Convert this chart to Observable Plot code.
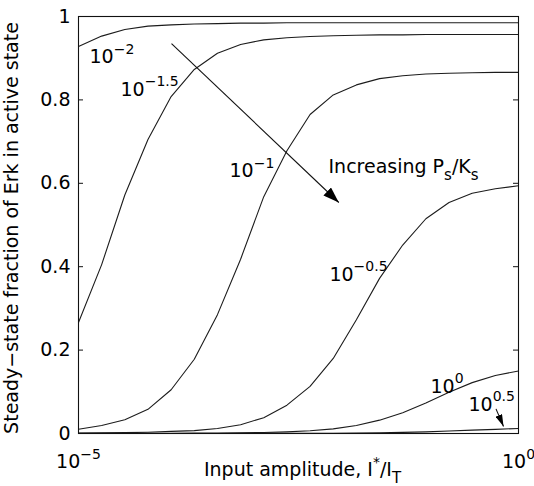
<!DOCTYPE html>
<html>
<head>
<meta charset="utf-8">
<script src="https://cdn.jsdelivr.net/npm/d3@7"></script>
<script src="https://cdn.jsdelivr.net/npm/@observablehq/plot@0.6"></script>
<style>
  html, body { margin: 0; padding: 0; background: #fff; }
</style>
</head>
<body>
<div id="chart"></div>
<script>
// Input amplitude I*/I_T: 20 log-spaced samples from 1e-5 to 1
const inputAmplitude = [
  1e-5, 1.833e-5, 3.360e-5, 6.158e-5, 1.129e-4, 2.069e-4, 3.793e-4, 6.952e-4,
  1.274e-3, 2.336e-3, 4.281e-3, 7.848e-3, 1.438e-2, 2.637e-2, 4.833e-2, 8.859e-2,
  0.1624, 0.2976, 0.5456, 1
];

// Steady-state fraction of active Erk, one array per phosphatase ratio Ps/Ks
const ratioLabels = ["10^{−2}", "10^{−1.5}", "10^{−1}", "10^{−0.5}", "10^{0}", "10^{0.5}"];
const erkRatioM2 = [0.928, 0.953, 0.969, 0.977, 0.980, 0.982, 0.983, 0.984, 0.984, 0.985,
                    0.985, 0.985, 0.985, 0.985, 0.985, 0.985, 0.985, 0.985, 0.985, 0.985];
const erkRatioM15 = [0.266, 0.405, 0.572, 0.705, 0.808, 0.873, 0.912, 0.933, 0.944, 0.949,
                     0.952, 0.954, 0.955, 0.956, 0.956, 0.957, 0.957, 0.957, 0.957, 0.957];
const erkRatioM1 = [0.010, 0.019, 0.033, 0.058, 0.105, 0.178, 0.285, 0.418, 0.568, 0.678,
                    0.765, 0.812, 0.836, 0.851, 0.858, 0.862, 0.864, 0.865, 0.866, 0.866];
const erkRatioM05 = [0.001, 0.0015, 0.002, 0.003, 0.005, 0.007, 0.012, 0.021, 0.038, 0.068,
                     0.113, 0.180, 0.273, 0.372, 0.452, 0.515, 0.554, 0.576, 0.587, 0.594];
const erkRatio0 = [0.0002, 0.0003, 0.0004, 0.0005, 0.0006, 0.0008, 0.0011, 0.0015, 0.0025, 0.004,
                   0.0065, 0.011, 0.019, 0.032, 0.050, 0.073, 0.099, 0.122, 0.139, 0.150];
const erkRatio05 = [0, 0, 0, 0, 0.0001, 0.0001, 0.0001, 0.0002, 0.0002, 0.0003,
                    0.0004, 0.0007, 0.0011, 0.0018, 0.0028, 0.004, 0.006, 0.008, 0.010, 0.012];
const erkSeries = [erkRatioM2, erkRatioM15, erkRatioM1, erkRatioM05, erkRatio0, erkRatio05];

// Axis ticks
const yTicks = [0, 0.2, 0.4, 0.6, 0.8, 1];
const yTickLabels = ["0", "0.2", "0.4", "0.6", "0.8", "1"];
const xTicks = [1e-5, 1];
const xTickLabels = ["10^{−5}", "10^{0}"];

// Curve annotations (data coordinates of each label's baseline start)
const labelText = ["10^{−2}", "10^{−1.5}", "10^{−1}", "Increasing P_{s}/K_{s}", "10^{−0.5}", "10^{0}", "10^{0.5}"];
const labelX = [1.334e-5, 3.0e-5, 5.2e-4, 6.93e-3, 7.1e-3, 0.1, 0.2704];
const labelY = [0.888, 0.810, 0.614, 0.624, 0.366, 0.098, 0.0545];

// Arrows: start and tip in data coordinates
const arrowX1 = [1.14e-4, 0.555];
const arrowY1 = [0.935, 0.059];
const arrowX2 = [9.08e-3, 0.676];
const arrowY2 = [0.554, 0.017];

const xAxisTitle = "Input amplitude, I^{*}/I_{T}";
const yAxisTitle = "Steady−state fraction of Erk in active state";

const rows = erkSeries.flatMap((values, s) =>
  values.map((v, i) => ({series: ratioLabels[s], x: inputAmplitude[i], y: v}))
);
const labels = labelText.map((t, i) => ({text: t, x: labelX[i], y: labelY[i]}));
const arrows = arrowX1.map((_, i) => ({x1: arrowX1[i], y1: arrowY1[i], x2: arrowX2[i], y2: arrowY2[i]}));

const ink = "#111";

const chart = Plot.plot({
  width: 534,
  height: 486,
  marginLeft: 78,
  marginRight: 16,
  marginTop: 16,
  marginBottom: 53,
  style: {fontFamily: "'DejaVu Sans', sans-serif", fontSize: "19px", background: "#fff", color: "#000"},
  x: {type: "log", domain: [1e-5, 1]},
  y: {domain: [0, 1]},
  marks: [
    Plot.line(rows, {x: "x", y: "y", z: "series", stroke: "#1c1c1c", strokeWidth: 1.1}),
    Plot.frame({stroke: ink, strokeWidth: 1.1}),
    // inward ticks on the left and right edges
    Plot.tickY(yTicks, {y: d => d, insetRight: 435, stroke: ink}),
    Plot.tickY(yTicks, {y: d => d, insetLeft: 435, stroke: ink}),
    Plot.axisY({ticks: yTicks, tickSize: 0, tickPadding: 8, label: null,
                tickFormat: d => yTickLabels[yTicks.indexOf(d)], fill: "#000"}),
    Plot.axisX({ticks: xTicks, tickSize: 0, tickPadding: 21, label: null,
                tickFormat: d => xTickLabels[xTicks.indexOf(d)], fill: "#000"}),
    Plot.text(labels, {x: "x", y: "y", text: "text", textAnchor: "start", lineAnchor: "bottom", fill: "#000"}),
    Plot.link(arrows, {x1: "x1", y1: "y1", x2: "x2", y2: "y2", stroke: ink, strokeWidth: 1.1}),
    Plot.text([xAxisTitle], {text: d => d, frameAnchor: "bottom", textAnchor: "middle",
                             lineAnchor: "bottom", dy: 42.5, dx: 4, fill: "#000"}),
    Plot.text([yAxisTitle], {text: d => d, frameAnchor: "left", textAnchor: "middle",
                             lineAnchor: "bottom", rotate: -90, dx: -60.5, dy: 3, fill: "#000"})
  ]
});

// Turn ^{...} and _{...} markup into raised / lowered tspans
const SVGNS = "http://www.w3.org/2000/svg";
function enrichText(svg) {
  const re = /([\^_])\{([^}]*)\}|([^\^_]+)/g;
  svg.querySelectorAll("text").forEach(t => {
    const s = t.textContent;
    if (!/[\^_]\{/.test(s)) return;
    while (t.firstChild) t.removeChild(t.firstChild);
    let shift = 0;
    for (const m of s.matchAll(re)) {
      const ts = document.createElementNS(SVGNS, "tspan");
      let target = 0;
      if (m[1] === "^") {
        target = -9.5;
        ts.setAttribute("font-size", "14px");
        ts.textContent = m[2];
      } else if (m[1] === "_") {
        target = 6.5;
        ts.setAttribute("font-size", "15px");
        ts.textContent = m[2];
      } else {
        ts.textContent = m[3];
      }
      if (target !== shift) ts.setAttribute("dy", target - shift);
      shift = target;
      t.appendChild(ts);
    }
  });
}

// Filled arrowheads for the annotation arrows
function addArrowheads(svg) {
  const defs = document.createElementNS(SVGNS, "defs");
  const heads = [{id: "head-large", len: 16, wid: 11}, {id: "head-small", len: 12, wid: 7}];
  for (const h of heads) {
    const m = document.createElementNS(SVGNS, "marker");
    m.setAttribute("id", h.id);
    m.setAttribute("viewBox", `0 0 ${h.len} ${h.wid}`);
    m.setAttribute("refX", h.len);
    m.setAttribute("refY", h.wid / 2);
    m.setAttribute("markerWidth", h.len);
    m.setAttribute("markerHeight", h.wid);
    m.setAttribute("markerUnits", "userSpaceOnUse");
    m.setAttribute("orient", "auto");
    const p = document.createElementNS(SVGNS, "path");
    p.setAttribute("d", `M0,0L${h.len},${h.wid / 2}L0,${h.wid}Z`);
    p.setAttribute("fill", "#000");
    p.setAttribute("stroke", "none");
    m.appendChild(p);
    defs.appendChild(m);
  }
  svg.insertBefore(defs, svg.firstChild);
  const paths = svg.querySelectorAll('g[aria-label="link"] path');
  paths.forEach((p, i) => p.setAttribute("marker-end", `url(#${heads[i].id})`));
}

enrichText(chart);
addArrowheads(chart);
document.getElementById("chart").appendChild(chart);
</script>
</body>
</html>
